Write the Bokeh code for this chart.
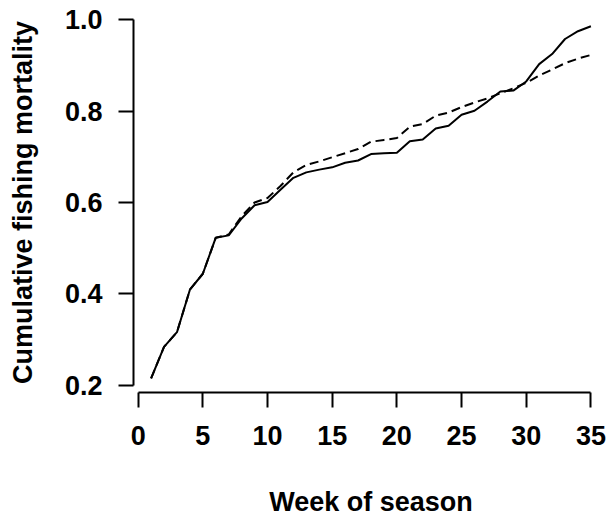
from bokeh.plotting import figure
from bokeh.models import Range1d, FixedTicker, PrintfTickFormatter
from bokeh.embed import file_html
from bokeh.resources import INLINE

weeks = list(range(1, 36))
observed = [0.215, 0.284, 0.316, 0.409, 0.444, 0.523, 0.528, 0.565, 0.594, 0.601,
            0.628, 0.654, 0.666, 0.672, 0.677, 0.687, 0.692, 0.706, 0.708, 0.709,
            0.734, 0.738, 0.762, 0.768, 0.792, 0.801, 0.821, 0.843, 0.845, 0.865,
            0.903, 0.925, 0.958, 0.975, 0.986]
modelled = [0.215, 0.284, 0.316, 0.409, 0.444, 0.523, 0.530, 0.570, 0.600, 0.610,
            0.636, 0.666, 0.682, 0.690, 0.699, 0.708, 0.717, 0.733, 0.737, 0.741,
            0.766, 0.772, 0.790, 0.797, 0.809, 0.819, 0.828, 0.839, 0.850, 0.862,
            0.878, 0.891, 0.905, 0.915, 0.923]
x_ticks = [0, 5, 10, 15, 20, 25, 30, 35]
y_ticks = [0.2, 0.4, 0.6, 0.8, 1.0]

FONT = "Liberation Sans"

p = figure(width=609, height=521, output_backend="svg", toolbar_location=None,
           x_range=Range1d(-0.36, 36.36), y_range=Range1d(0.184, 1.016),
           min_border_left=133, min_border_right=1, min_border_top=12,
           min_border_bottom=129)
p.outline_line_color = None
p.grid.visible = False
p.background_fill_color = "white"
p.border_fill_color = "white"

p.line(weeks, observed, line_color="black", line_width=2)
p.line(weeks, modelled, line_color="black", line_width=2, line_dash="9 5")

for ax, ticks, bounds in ((p.xaxis[0], x_ticks, (0, 35)), (p.yaxis[0], y_ticks, (0.2, 1.0))):
    ax.ticker = FixedTicker(ticks=ticks)
    ax.bounds = bounds
    ax.axis_line_width = 2
    ax.axis_line_color = "black"
    ax.major_tick_line_width = 2
    ax.major_tick_line_color = "black"
    ax.major_tick_out = 15
    ax.major_tick_in = 0
    ax.minor_tick_line_color = None
    ax.major_label_text_font = FONT
    ax.major_label_text_font_style = "bold"
    ax.major_label_text_font_size = "27px"
    ax.major_label_text_color = "black"
    ax.axis_label_text_font = FONT
    ax.axis_label_text_font_style = "bold"
    ax.axis_label_text_font_size = "27px"
    ax.axis_label_text_color = "black"

p.xaxis[0].axis_label = "Week of season"
p.xaxis[0].major_label_standoff = 18
p.xaxis[0].axis_label_standoff = 39
p.yaxis[0].axis_label = "Cumulative fishing mortality"
p.yaxis[0].major_label_standoff = 16
p.yaxis[0].axis_label_standoff = 24
p.yaxis[0].major_label_orientation = "horizontal"
p.yaxis[0].formatter = PrintfTickFormatter(format="%.1f")

open("out.html", "w").write(file_html(p, INLINE))
